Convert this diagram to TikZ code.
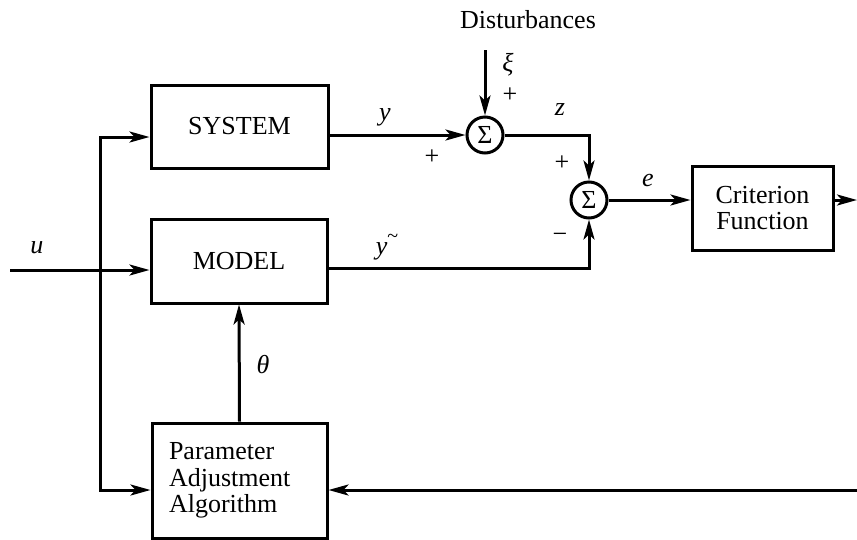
\documentclass[tikz,border=0pt]{standalone}
\usepackage{fontspec}
\setmainfont{Liberation Serif}
\usetikzlibrary{arrows.meta,calc}
\tikzset{
  blk/.style={draw, line width=3pt, rectangle, inner sep=0pt, align=center},
  sumc/.style={draw, line width=3pt, circle, minimum size=36pt, inner sep=0pt},
  arr/.style={line width=3pt, -{Stealth[length=20pt,width=11pt,inset=5pt]}},
  lbl/.style={inner sep=0pt},
  every node/.style={font=\fontsize{26}{26.5}\selectfont}
}
\begin{document}
\begin{tikzpicture}[x=1pt,y=-1pt]
\useasboundingbox (0,0) rectangle (857,539);
% blocks
\node[blk, minimum width=177pt, minimum height=83pt] (SYS) at (239.5,126.5) {SYSTEM};
\node[blk, minimum width=176pt, minimum height=84pt] (MOD) at (239,261) {MODEL};
\node[blk, text width=141pt, inner xsep=17pt, align=left, minimum height=115pt] (PAA) at (239.5,480.5) {Parameter\\Adjustment\\Algorithm};
\node[blk, minimum width=141pt, minimum height=84pt] (CF) at (762.5,208) {Criterion\\Function};
\node[sumc] (s1) at (485,135) {Σ};
\node[sumc] (s2) at (589,200) {Σ};
% free ends
\coordinate (uin) at (10,270);
\coordinate (j) at (100,270);
\coordinate (vtop) at (100,137);
\coordinate (vbot) at (100,490);
\coordinate (dtop) at (485,50);
\coordinate (my) at (327,268);
\coordinate (out) at (857,200);
\coordinate (fb) at (857,490);
% connectors
\draw[arr] (uin) -- (uin -| MOD.west);
\draw[arr] (j) |- (vtop -| SYS.west);
\draw[arr] (j) |- (vbot -| PAA.west);
\draw[arr] (s1.west -| SYS.east) -- (s1.west);
\draw[arr] (dtop) -- (s1.north);
\draw[arr] (s1.east) -| (s2.north);
\draw[arr] (my) -| (s2.south);
\draw[arr] (s2.east) -- (s2.east -| CF.west);
\draw[arr] (s2.east -| CF.east) -- (out);
\draw[arr] (PAA.north) -- (MOD.south);
\draw[arr] (fb) -- (fb -| PAA.east);
% labels
\node[lbl] (ldist) at (528,20) {Disturbances};
\node[lbl] (lxi) at (508,65) {\textit{ξ}};
\node[lbl] (lp1) at (510,95) {+};
\node[lbl] (ly) at (385,117) {\textit{y}};
\node[lbl] (lp2) at (432,157) {+};
\node[lbl] (lz) at (560,110) {\textit{z}};
\node[lbl] (lp3) at (562,163) {+};
\node[lbl] (le) at (648,180) {\textit{e}};
\node[lbl] (lm) at (560,238) {−};
\node[lbl] (lyt) at (387,247) {\textit{y}\raisebox{0.45em}{\fontsize{20}{20}\selectfont\textasciitilde}};
\node[lbl] (lu) at (37,248) {\textit{u}};
\node[lbl] (lth) at (263,365) {\textit{θ}};
\end{tikzpicture}
\end{document}
